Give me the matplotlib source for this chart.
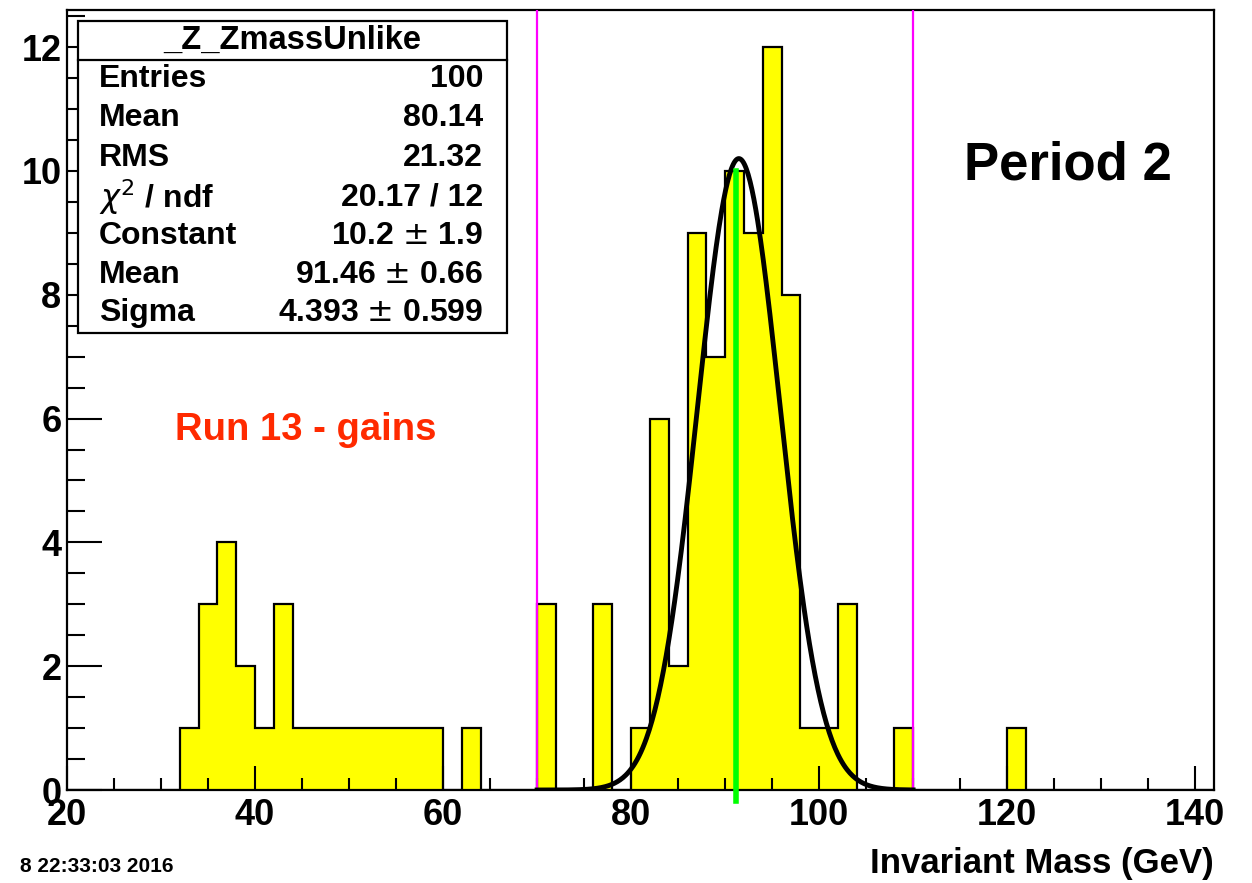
import numpy as np
import matplotlib.pyplot as plt
from matplotlib.patches import Rectangle
from matplotlib.lines import Line2D
from matplotlib.ticker import MultipleLocator

plt.rcParams['font.family'] = ['Liberation Sans', 'DejaVu Sans']
plt.rcParams['mathtext.fontset'] = 'dejavusans'

# Histogram: 2 GeV bins from 20 to 142
bin_edges = np.arange(20, 144, 2)
counts = np.zeros(len(bin_edges) - 1)
filled = {32: 1, 34: 3, 36: 4, 38: 2, 40: 1, 42: 3,
          44: 1, 46: 1, 48: 1, 50: 1, 52: 1, 54: 1, 56: 1, 58: 1,
          62: 1,
          70: 3, 76: 3, 80: 1, 82: 6, 84: 2, 86: 9, 88: 7, 90: 10,
          92: 9, 94: 12, 96: 8, 98: 1, 100: 1, 102: 3, 108: 1,
          120: 1}
for lo, n in filled.items():
    counts[(lo - 20) // 2] = n

# Gaussian fit results
fit_const, fit_mean, fit_sigma = 10.2, 91.46, 4.393
fit_range = (70, 110)
green_x, green_top = 91.2, 10

stat_title = "_Z_ZmassUnlike"
stat_labels = ["Entries", "Mean", "RMS", r"$\chi^{2}$ / ndf", "Constant", "Mean", "Sigma"]
stat_values = ["100", "80.14", "21.32", "20.17 / 12", "10.2 $\\pm$ 1.9",
               "91.46 $\\pm$ 0.66", "4.393 $\\pm$ 0.599"]

W, H = 1252, 883
fig = plt.figure(figsize=(W / 100, H / 100), dpi=100)
ax = fig.add_axes([67 / W, 1 - 790 / H, (1214 - 67) / W, (790 - 10) / H])

ax.stairs(counts, bin_edges, fill=True, color="#ffff00", zorder=1)
ax.stairs(counts, bin_edges, color="black", linewidth=1.6, baseline=0, zorder=2)

xf = np.linspace(*fit_range, 400)
ax.plot(xf, fit_const * np.exp(-0.5 * ((xf - fit_mean) / fit_sigma) ** 2),
        color="black", linewidth=3.5, zorder=4)

for xv in fit_range:
    ax.axvline(xv, color="#ff00ff", linewidth=1.6, zorder=3)
ax.plot([green_x, green_x], [-0.18, green_top], color="#00ff00",
        linewidth=4, zorder=5, clip_on=False)

ax.set_xlim(20, 142)
ax.set_ylim(0, 12.6)
ax.xaxis.set_major_locator(MultipleLocator(20))
ax.xaxis.set_minor_locator(MultipleLocator(5))
ax.yaxis.set_major_locator(MultipleLocator(2))
ax.yaxis.set_minor_locator(MultipleLocator(0.5))
ax.tick_params(which="both", direction="in", top=False, right=False, width=1.5)
ax.tick_params(which="major", axis="x", length=17, pad=6)
ax.tick_params(which="minor", axis="x", length=9)
ax.tick_params(which="major", axis="y", length=25, pad=4)
ax.tick_params(which="minor", axis="y", length=13)
for lab in ax.get_xticklabels() + ax.get_yticklabels():
    lab.set_fontsize(26)
    lab.set_fontweight("bold")
for sp in ax.spines.values():
    sp.set_linewidth(1.6)

ax.set_xlabel("Invariant Mass (GeV)", fontsize=25, fontweight="bold",
              loc="right", labelpad=10)

fig.text(1068 / W, 1 - 166 / H, "Period 2", fontsize=38, fontweight="bold",
         ha="center", va="center")
fig.text(306 / W, 1 - 430 / H, "Run 13 - gains", fontsize=27.5, fontweight="bold",
         color="#ff2a00", ha="center", va="center")
fig.text(20 / W, 1 - 866 / H, "8 22:33:03 2016", fontsize=15, fontweight="bold",
         ha="left", va="center")

# Statistics box
bx0, by0, bx1, by1 = 78, 21, 507, 333
fig.patches.append(Rectangle((bx0 / W, 1 - by1 / H), (bx1 - bx0) / W, (by1 - by0) / H,
                             transform=fig.transFigure, facecolor="white",
                             edgecolor="black", linewidth=1.6, zorder=5))
fig.lines.append(Line2D([bx0 / W, bx1 / W], [1 - 60 / H, 1 - 60 / H],
                        transform=fig.transFigure, color="black", linewidth=1.6, zorder=6))
fig.text((bx0 + bx1) / 2 / W, 1 - 40 / H, stat_title, fontsize=23.5, fontweight="bold",
         ha="center", va="center", zorder=7)
row_y = [79, 118, 158, 197, 236, 275, 313]
for yy, lab, val in zip(row_y, stat_labels, stat_values):
    fig.text(99 / W, 1 - yy / H, lab, fontsize=23, fontweight="bold",
             ha="left", va="center", zorder=7)
    fig.text(483 / W, 1 - yy / H, val, fontsize=23, fontweight="bold",
             ha="right", va="center", zorder=7)

fig.savefig("out.png", dpi=100)
